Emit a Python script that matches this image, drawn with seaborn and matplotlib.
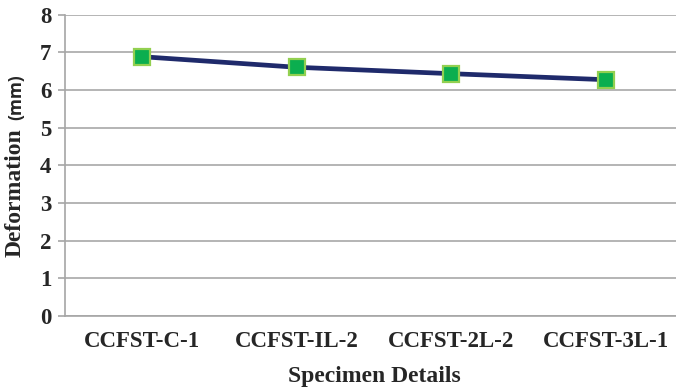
import matplotlib
matplotlib.use("Agg")
import matplotlib.pyplot as plt
from matplotlib.ticker import FixedLocator
import seaborn as sns
import pandas as pd

specimens = ["CCFST-C-1", "CCFST-IL-2", "CCFST-2L-2", "CCFST-3L-1"]
deformation = [6.88, 6.60, 6.43, 6.27]
y_ticks = [0, 1, 2, 3, 4, 5, 6, 7, 8]

df = pd.DataFrame({"Specimen": specimens, "Deformation": deformation})

sns.set_theme(style="white")
plt.rcParams["font.family"] = ["Liberation Serif", "DejaVu Serif"]

fig = plt.figure(figsize=(6.76, 3.90), dpi=100)
ax = fig.add_axes([0.0962, 0.1897, 0.9142, 0.7731])

sns.lineplot(data=df, x="Specimen", y="Deformation", sort=False, ax=ax,
             color="#1F2A6B", linewidth=3.4, marker="s", markersize=11,
             markerfacecolor="#0BAE4F", markeredgecolor="#92D050",
             markeredgewidth=1.6, zorder=3)

ax.set_xlim(-0.5, len(specimens) - 0.5)
ax.set_ylim(0, 8)
ax.set_yticks(y_ticks)
ax.yaxis.grid(True, color="#AFAFAF", linewidth=1.3)
ax.xaxis.grid(False)

for side in ("top", "right"):
    ax.spines[side].set_visible(False)
for side in ("left", "bottom"):
    ax.spines[side].set_color("#A6A6A6")
    ax.spines[side].set_linewidth(1.2)

# category boundary tick marks on the x axis
ax.xaxis.set_minor_locator(FixedLocator([i - 0.5 for i in range(len(specimens) + 1)]))
ax.tick_params(axis="x", which="major", length=0, pad=11, labelsize=16.5)
ax.tick_params(axis="x", which="minor", length=5, width=1.2, color="#A6A6A6", direction="out")
ax.tick_params(axis="y", length=5, width=1.2, color="#A6A6A6", direction="out",
               pad=5, labelsize=16.5, left=True)
for lab in ax.get_xticklabels() + ax.get_yticklabels():
    lab.set_fontweight("bold")

ax.set_xlabel("Specimen Details", fontsize=17, fontweight="bold", labelpad=10)
ax.set_ylabel("")

# y-axis title: bold serif word followed by the unit in a sans face
fig.text(15 / 676, 1 - 193 / 390, "Deformation", rotation=90, ha="center", va="center",
         fontsize=17, fontweight="bold")
fig.text(16 / 676, 1 - 97 / 390, "(mm)", rotation=90, ha="center", va="center",
         fontsize=12.5, fontweight="bold", family=["Open Sans", "DejaVu Sans"])

fig.savefig("out.png", dpi=100)
